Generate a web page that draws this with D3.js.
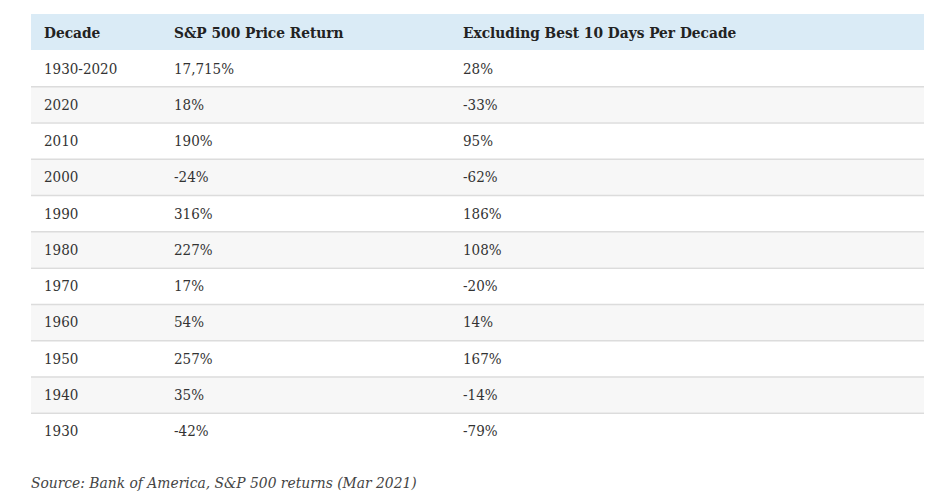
<!DOCTYPE html>
<html>
<head>
<meta charset="utf-8">
<script src="https://cdn.jsdelivr.net/npm/d3@7"></script>
<style>
  html, body { margin: 0; padding: 0; background: #fff; }
</style>
</head>
<body>
<div id="chart-container"></div>
<script>
const columns = ["Decade", "S&P 500 Price Return", "Excluding Best 10 Days Per Decade"];
const decades = ["1930-2020", "2020", "2010", "2000", "1990", "1980", "1970", "1960", "1950", "1940", "1930"];
const priceReturn = ["17,715%", "18%", "190%", "-24%", "316%", "227%", "17%", "54%", "257%", "35%", "-42%"];
const excludingBest = ["28%", "-33%", "95%", "-62%", "186%", "108%", "-20%", "14%", "167%", "-14%", "-79%"];
const sourceNote = "Source: Bank of America, S&P 500 returns (Mar 2021)";

const svgWidth = 936;
const svgHeight = 504;
const table = { left: 31, right: 924, top: 14, header: 36, bottom: 449 };
const pad = 13;
const serif = "'DejaVu Serif Condensed', 'DejaVu Serif', serif";

const svg = d3.select("#chart-container")
    .append("svg")
    .attr("width", svgWidth)
    .attr("height", svgHeight);

// column start positions
const xCol = d3.scaleOrdinal()
    .domain(columns)
    .range([table.left, 161, 450]);

const yRow = d3.scaleBand()
    .domain(d3.range(decades.length))
    .range([table.top + table.header, table.bottom]);

const rows = decades.map((d, i) => [d, priceReturn[i], excludingBest[i]]);

// header band
svg.append("rect")
    .attr("x", table.left)
    .attr("y", table.top)
    .attr("width", table.right - table.left)
    .attr("height", table.header)
    .attr("fill", "#daebf6");

svg.selectAll("text.head")
    .data(columns)
    .enter()
    .append("text")
    .attr("class", "head")
    .attr("x", d => xCol(d) + pad)
    .attr("y", table.top + table.header / 2)
    .attr("dy", "0.36em")
    .attr("font-family", serif)
    .attr("font-weight", "bold")
    .attr("font-size", "15.3px")
    .attr("fill", "#222")
    .text(d => d);

// body rows
const rowG = svg.selectAll("g.row")
    .data(rows)
    .enter()
    .append("g")
    .attr("class", "row")
    .attr("transform", (d, i) => `translate(0, ${yRow(i)})`);

rowG.append("rect")
    .attr("x", table.left)
    .attr("width", table.right - table.left)
    .attr("height", yRow.bandwidth())
    .attr("fill", (d, i) => i % 2 ? "#f7f7f7" : "#fff");

rowG.filter((d, i) => i > 0)
    .append("line")
    .attr("x1", table.left)
    .attr("x2", table.right)
    .attr("y1", 0.5)
    .attr("y2", 0.5)
    .attr("stroke", "#dcdcdc")
    .attr("stroke-width", 1.5);

rowG.selectAll("text")
    .data(d => d.map((v, j) => ({ v, col: columns[j] })))
    .enter()
    .append("text")
    .attr("x", d => xCol(d.col) + pad)
    .attr("y", yRow.bandwidth() / 2)
    .attr("dy", "0.36em")
    .attr("font-family", serif)
    .attr("font-size", "15px")
    .attr("fill", "#333")
    .text(d => d.v);

svg.append("text")
    .attr("x", table.left)
    .attr("y", 482)
    .attr("dy", "0.36em")
    .attr("font-family", serif)
    .attr("font-style", "italic")
    .attr("font-size", "15.4px")
    .attr("fill", "#444")
    .text(sourceNote);
</script>
</body>
</html>
